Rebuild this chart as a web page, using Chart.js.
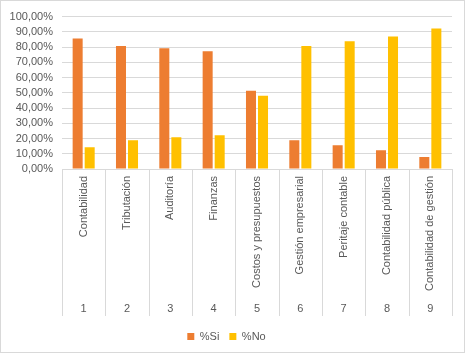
<!DOCTYPE html>
<html>
<head>
<meta charset="utf-8">
<script src="https://cdn.jsdelivr.net/npm/chart.js@4.4.1/dist/chart.umd.min.js"></script>
<style>
  html, body { margin: 0; padding: 0; background: #ffffff; }
  #wrap { position: absolute; left: 0; top: 0; width: 465px; height: 353px; box-sizing: border-box; border: 1px solid #d9d9d9; background: #fff; }
  canvas { display: block; }
</style>
</head>
<body>
<div id="wrap"><canvas id="c" width="463" height="351"></canvas></div>
<script>
const categories = ['Contabilidad', 'Tributación', 'Auditoría', 'Finanzas', 'Costos y presupuestos', 'Gestión empresarial', 'Peritaje contable', 'Contabilidad pública', 'Contabilidad de gestión'];
const numbers = ['1', '2', '3', '4', '5', '6', '7', '8', '9'];
const seriesSi = [85.7, 80.7, 79.2, 77.3, 51.3, 18.8, 15.6, 12.3, 7.8];
const seriesNo = [14.3, 18.8, 20.8, 22.1, 48.1, 80.7, 83.8, 87.0, 92.2];
const seriesNames = ['%Si', '%No'];

const FONT = "'Liberation Sans', Arial, sans-serif";
const TXT = '#595959';
const GRID = '#d9d9d9';

const separators = {
  id: 'separators',
  afterDraw(chart) {
    const xs = chart.scales.x, x2 = chart.scales.x2;
    const ctx = chart.ctx;
    ctx.save();
    ctx.strokeStyle = GRID;
    ctx.lineWidth = 1;
    for (let i = 0; i <= categories.length; i++) {
      const px = Math.round(xs.getPixelForValue(i - 0.5)) + 0.5;
      ctx.beginPath();
      ctx.moveTo(px, xs.top);
      ctx.lineTo(px, x2.top + 19);
      ctx.stroke();
    }
    ctx.restore();
  }
};

new Chart(document.getElementById('c'), {
  type: 'bar',
  data: {
    labels: categories,
    datasets: [
      { label: seriesNames[0], data: seriesSi, backgroundColor: '#ED7D31', xAxisID: 'x' },
      { label: seriesNames[1], data: seriesNo, backgroundColor: '#FFC000', xAxisID: 'x' }
    ]
  },
  options: {
    responsive: false,
    animation: false,
    devicePixelRatio: 1,
    layout: { padding: { left: 0, right: 12, top: 14, bottom: 0 } },
    datasets: { bar: { categoryPercentage: 0.555, barPercentage: 0.833 } },
    plugins: {
      tooltip: { enabled: false },
      legend: {
        position: 'bottom',
        labels: {
          boxWidth: 7, boxHeight: 7, padding: 10,
          color: TXT, font: { family: FONT, size: 11 }
        }
      }
    },
    scales: {
      y: {
        min: 0, max: 100,
        ticks: {
          stepSize: 10, padding: 9, color: TXT, autoSkip: false,
          font: { family: FONT, size: 11 },
          callback: v => v.toFixed(2).replace('.', ',') + '%'
        },
        grid: { color: GRID, drawTicks: false },
        border: { display: false },
        afterFit: s => { s.width = 61; }
      },
      x: {
        type: 'category',
        position: 'bottom',
        weight: 0,
        offset: true,
        grid: { display: false, drawTicks: false },
        border: { display: true, color: GRID },
        ticks: {
          autoSkip: false, minRotation: 90, maxRotation: 90, padding: 7,
          color: TXT, font: { family: FONT, size: 11 }
        },
        afterFit: s => { s.height = 128; }
      },
      x2: {
        type: 'category',
        position: 'bottom',
        weight: 1,
        labels: numbers,
        offset: true,
        grid: { display: false, drawTicks: false },
        border: { display: false },
        ticks: {
          autoSkip: false, maxRotation: 0, padding: 5,
          color: TXT, font: { family: FONT, size: 11 }
        },
        afterFit: s => { s.height = 24; }
      }
    }
  },
  plugins: [separators]
});
</script>
</body>
</html>
